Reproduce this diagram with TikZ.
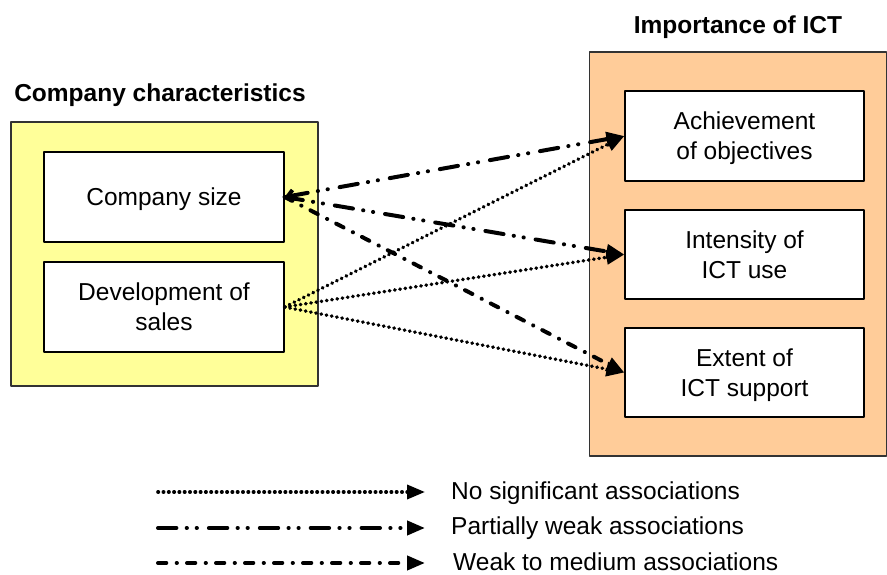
\documentclass[tikz,border=0pt]{standalone}
\usepackage{fontspec}
\setmainfont{Liberation Sans}
\usetikzlibrary{arrows.meta,positioning}
\definecolor{paleyellow}{RGB}{255,255,153}
\definecolor{paleorange}{RGB}{255,204,153}
\tikzset{
  itembox/.style={draw=black, line width=1.3pt, fill=white, minimum width=240pt, minimum height=90pt, align=center, inner sep=0pt, text depth=0pt},
  groupbox/.style={draw=black!80, line width=1.3pt, inner sep=0pt},
  grouptitle/.style={font=\fontsize{24.5}{30}\selectfont\bfseries},
  nosig/.style={line width=3.6pt, line cap=round, dash pattern=on 0.4pt off 4.9pt},
  partweak/.style={line width=4pt, line cap=round, dash pattern=on 18.4pt off 10.3pt on 0.2pt off 9.8pt on 0.2pt off 12pt},
  weakmed/.style={line width=4pt, line cap=round, dash pattern=on 8.3pt off 10.4pt on 0.2pt off 10.1pt},
  tip/.style={-{Triangle[length=18pt,width=14pt]}}
}
\begin{document}
\begin{tikzpicture}[x=1pt, y=-1pt, font=\fontsize{24.5}{30}\selectfont, line join=round]
\useasboundingbox (0,0) rectangle (887,575);
% Linke Gruppe
\node[groupbox, fill=paleyellow, minimum width=307pt, minimum height=264pt] (cc) at (164.5,254) {};
\node[grouptitle] (cctitle) at (160,95) {Company characteristics};
\node[itembox] (size) at (164,197) {Company size};
\node[itembox] (sales) at (164,307) {Development of\\sales};
% Rechte Gruppe
\node[groupbox, fill=paleorange, minimum width=297pt, minimum height=404pt] (ict) at (738,254) {};
\node[grouptitle] (icttitle) at (738,27) {Importance of ICT};
\node[itembox, minimum width=239pt] (achieve) at (744.5,136) {Achievement\\of objectives};
\node[itembox, minimum width=239pt, minimum height=89pt] (intensity) at (744.5,254.5) {Intensity of\\ICT use};
\node[itembox, minimum width=239pt, minimum height=89pt] (extent) at (744.5,372.5) {Extent of\\ICT support};
% Zusammenhaenge
\draw[partweak, {Straight Barb[length=6pt,width=11pt]}-{Triangle[length=18pt,width=14pt]}] (size.east) -- (achieve.west);
\draw[partweak, tip] (size.east) -- (intensity.west);
\draw[weakmed, tip] (size.east) -- (extent.west);
\draw[nosig, tip] (sales.east) -- (achieve.west);
\draw[nosig, tip] (sales.east) -- (intensity.west);
\draw[nosig, tip] (sales.east) -- (extent.west);
% Legende
\coordinate (l1) at (158,492);
\coordinate (l2) at (158,528);
\coordinate (l3) at (158,563);
\coordinate (e1) at (425,492);
\coordinate (e2) at (425,528);
\coordinate (e3) at (425,563);
\draw[nosig, tip] (l1) -- (e1);
\draw[partweak, tip] (l2) -- (e2);
\draw[weakmed, tip] (l3) -- (e3);
\node[anchor=west, inner sep=0pt] (t1) at (451,493) {No significant associations};
\node[anchor=west, inner sep=0pt] (t2) at (451,528) {Partially weak associations};
\node[anchor=west, inner sep=0pt] (t3) at (453,562) {Weak to medium associations};
\end{tikzpicture}
\end{document}
